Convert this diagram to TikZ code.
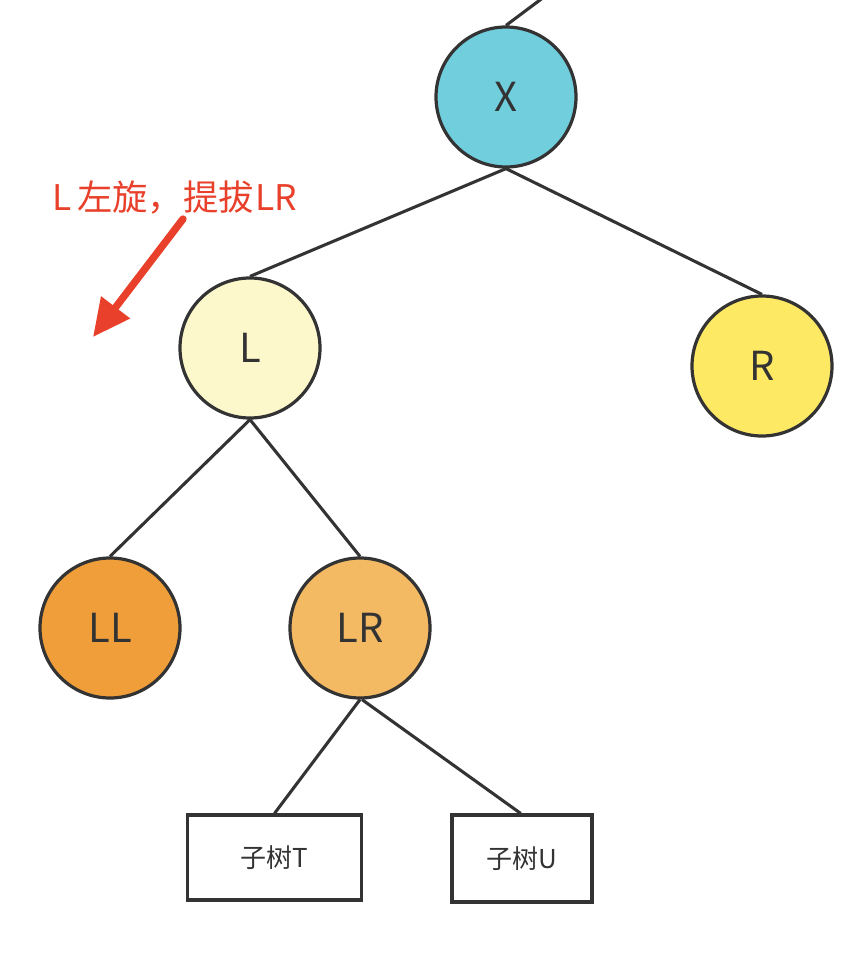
\documentclass[tikz,border=0pt]{standalone}
\usepackage{fontspec}
\setmainfont{Noto Sans CJK SC}
\usetikzlibrary{arrows.meta}
\definecolor{edgec}{HTML}{333333}
\definecolor{cX}{HTML}{70CEDD}
\definecolor{cL}{HTML}{FDF8CB}
\definecolor{cR}{HTML}{FDE964}
\definecolor{cLL}{HTML}{F09E3A}
\definecolor{cLR}{HTML}{F4BA63}
\definecolor{redc}{HTML}{E8402A}
\begin{document}
\begin{tikzpicture}[x=0.75pt,y=-0.75pt,
  tnode/.style={circle,draw=edgec,line width=2.4pt,minimum size=105pt,inner sep=0pt,
    text=edgec,font=\fontsize{30}{33}\selectfont},
  sbox/.style={rectangle,draw=edgec,line width=2.4pt,inner sep=0pt,text=edgec,
    font=\fontsize{19.5}{22}\selectfont},
  link/.style={draw=edgec,line width=2.3pt}]
\useasboundingbox (0,0) rectangle (852,966);
\node[tnode,fill=cX] (X) at (506,97) {X};
\node[tnode,fill=cL] (L) at (250,348) {L};
\node[tnode,fill=cR] (R) at (762,366) {R};
\node[tnode,fill=cLL] (LL) at (110,628) {LL};
\node[tnode,fill=cLR] (LR) at (360,628) {LR};
\node[sbox,minimum width=131pt,minimum height=63.75pt] (T) at (274.5,857.5) {子树T};
\node[sbox,minimum width=105pt,minimum height=65.25pt] (U) at (522,858.5) {子树U};
\coordinate (top) at (548,-6);
\draw[link] (X.90) -- (top);
\draw[link] (X.south) -- (L.north);
\draw[link] (X.south) -- (R.north);
\draw[link] (L.south) -- (LL.north);
\draw[link] (L.south) -- (LR.north);
\draw[link] (LR.south) -- (T.north);
\draw[link] ([xshift=1.5pt]LR.south) -- ([xshift=-1pt]U.north);
\node[text=redc,font=\fontsize{26.5}{30}\selectfont,anchor=west,inner sep=0pt] (lab) at (52,198) {L\,左旋，提拔\kern1pt LR};
\coordinate (a0) at (183,219);
\coordinate (a1) at (93,337);
\draw[redc,line width=5.5pt,line cap=round,-{Triangle[length=28pt,width=26pt]}] (a0) -- (a1);
\end{tikzpicture}
\end{document}
